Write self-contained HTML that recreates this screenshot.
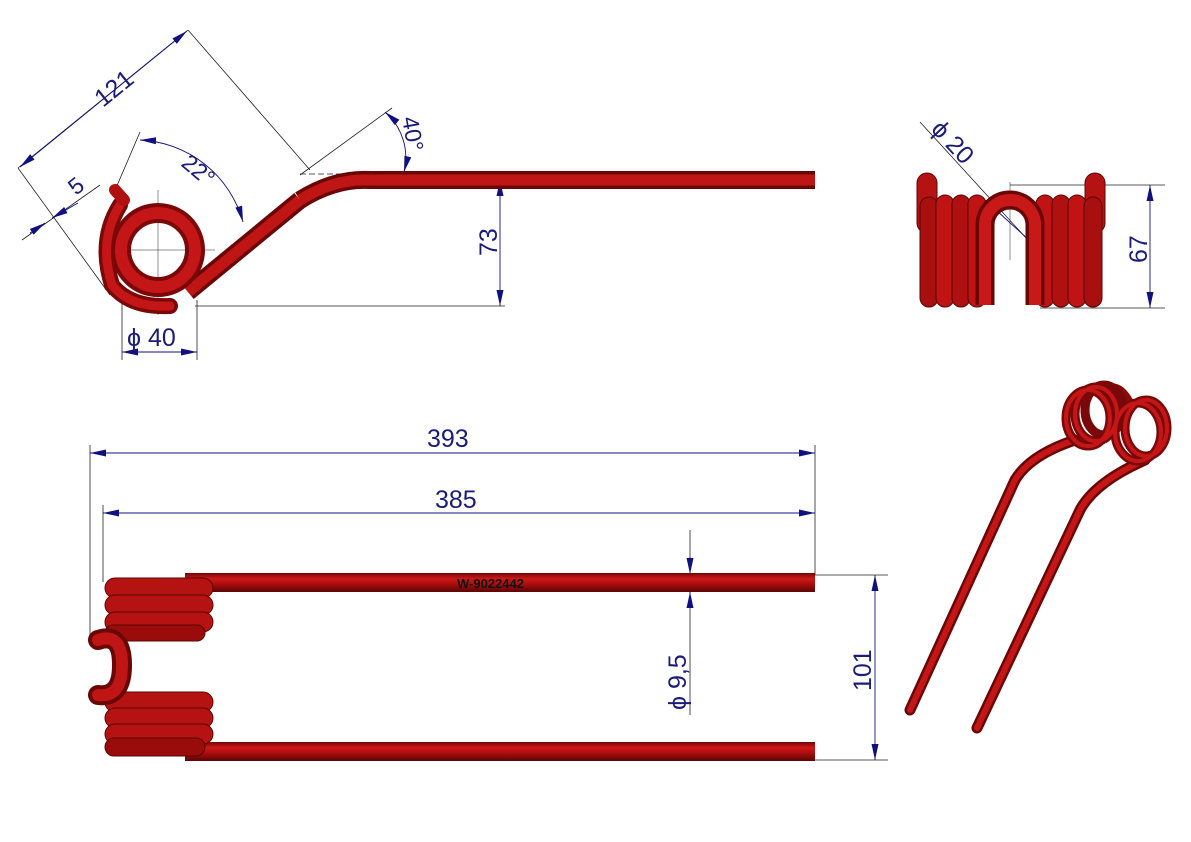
<!DOCTYPE html>
<html><head><meta charset="utf-8"><style>
html,body{margin:0;padding:0;background:#fff}
svg{display:block}
text{font-family:"Liberation Sans",sans-serif;fill:#1b1b7a}
</style></head><body>
<svg width="1191" height="842" viewBox="0 0 1191 842" xmlns="http://www.w3.org/2000/svg">
<defs>
<marker id="a" markerWidth="16" markerHeight="8" refX="16" refY="4" orient="auto-start-reverse" markerUnits="userSpaceOnUse">
<path d="M0,0.5 L16,4 L0,7.5 Z" fill="#101080"/></marker>
<linearGradient id="rod" x1="0" y1="0" x2="0" y2="1">
<stop offset="0" stop-color="#6e0808"/><stop offset="0.3" stop-color="#d01818"/><stop offset="0.6" stop-color="#a80d0d"/><stop offset="1" stop-color="#5a0505"/></linearGradient>
</defs>
<g stroke="#222" stroke-width="0.8" fill="none">
<line x1="18" y1="168" x2="188" y2="30"/>
<line x1="188" y1="30" x2="310" y2="170"/>
<line x1="18" y1="168" x2="110" y2="295"/>
<line x1="22" y1="240" x2="100" y2="185"/>
<line x1="140" y1="132" x2="116" y2="188"/>
<line x1="300" y1="175" x2="392" y2="108"/>
<line x1="300" y1="174" x2="370" y2="174" stroke-dasharray="6,3"/>
<line x1="195" y1="306" x2="505" y2="306"/>
<line x1="122" y1="300" x2="122" y2="360"/>
<line x1="197" y1="300" x2="197" y2="360"/>
<line x1="158" y1="190" x2="158" y2="315" stroke-width="0.5"/>
<line x1="100" y1="250" x2="215" y2="250" stroke-width="0.5"/>
<line x1="920" y1="122" x2="1048" y2="262"/>
<line x1="1010" y1="185" x2="1165" y2="185"/>
<line x1="1040" y1="308" x2="1165" y2="308"/>
<line x1="1010" y1="182" x2="1010" y2="260" stroke-width="0.5"/>
<line x1="90" y1="445" x2="90" y2="645"/>
<line x1="103" y1="505" x2="103" y2="582"/>
<line x1="815" y1="445" x2="815" y2="575"/>
<line x1="815" y1="575" x2="888" y2="575"/>
<line x1="815" y1="760" x2="888" y2="760"/>
<line x1="690" y1="530" x2="690" y2="715"/>
</g>
<g stroke="#101080" stroke-width="0.9" fill="none">
<line x1="20" y1="167" x2="187" y2="31" marker-start="url(#a)" marker-end="url(#a)"/>
<line x1="78" y1="203" x2="52" y2="218" marker-end="url(#a)"/>
<line x1="30" y1="233" x2="45" y2="223" marker-end="url(#a)"/>
<path d="M140,140 A112,112 0 0 1 243,222" marker-start="url(#a)" marker-end="url(#a)"/>
<path d="M385,112 A60,60 0 0 1 404,172" marker-start="url(#a)" marker-end="url(#a)"/>
<line x1="500" y1="180" x2="500" y2="306" marker-start="url(#a)" marker-end="url(#a)"/>
<line x1="122" y1="352" x2="197" y2="352" marker-start="url(#a)" marker-end="url(#a)"/>
<line x1="985" y1="200" x2="1040" y2="250" marker-start="url(#a)" marker-end="url(#a)"/>
<line x1="1150" y1="185" x2="1150" y2="308" marker-start="url(#a)" marker-end="url(#a)"/>
<line x1="90" y1="453" x2="815" y2="453" marker-start="url(#a)" marker-end="url(#a)"/>
<line x1="103" y1="513" x2="815" y2="513" marker-start="url(#a)" marker-end="url(#a)"/>
<line x1="875" y1="575" x2="875" y2="760" marker-start="url(#a)" marker-end="url(#a)"/>
<line x1="690" y1="557" x2="690" y2="574" marker-end="url(#a)"/>
<line x1="690" y1="608" x2="690" y2="592" marker-end="url(#a)"/>
</g>
<text font-size="25" transform="translate(103,108) rotate(-39)">121</text>
<text font-size="23" transform="translate(76,196) rotate(-39)">5</text>
<text font-size="23" transform="translate(180,165) rotate(40)">22°</text>
<text font-size="23" transform="translate(402,118) rotate(80)">40°</text>
<text font-size="25" transform="translate(497,256) rotate(-90)">73</text>
<text font-size="25" x="127" y="346">ϕ 40</text>
<text font-size="25" transform="translate(930,130) rotate(47)">ϕ 20</text>
<text font-size="25" transform="translate(1147,263) rotate(-90)">67</text>
<text font-size="25" x="427" y="447">393</text>
<text font-size="25" x="435" y="508">385</text>
<text font-size="25" transform="translate(871,691) rotate(-90)">101</text>
<text font-size="25" transform="translate(686,710) rotate(-90)">ϕ 9,5</text>

<g>
<path d="M300,200 Q335,178 370,180 L815,180" stroke="#6a0606" stroke-width="18" fill="none"/>
<path d="M300,200 Q335,178 370,180 L815,180" stroke="#c01515" stroke-width="11" fill="none"/>
<path d="M188,292 L300,200" stroke="#6a0606" stroke-width="18" fill="none"/>
<path d="M188,292 L300,200" stroke="#c01515" stroke-width="11" fill="none"/>
<path d="M120,205 Q98,240 112,285 Q130,308 170,306" stroke="#7a0808" stroke-width="16" fill="none" stroke-linecap="round"/>
<path d="M120,205 Q98,240 112,285 Q130,308 170,306" stroke="#c41616" stroke-width="9" fill="none" stroke-linecap="round"/>
<circle cx="158" cy="250" r="37" fill="none" stroke="#7a0808" stroke-width="20"/>
<circle cx="158" cy="250" r="37" fill="none" stroke="#c41616" stroke-width="12"/>
<line x1="115" y1="190" x2="124" y2="200" stroke="#b01010" stroke-width="12" stroke-linecap="round"/>
</g>

<g stroke="#5a0505" stroke-width="1">
<rect x="917" y="173" width="20" height="60" rx="10" fill="#b51212"/>
<rect x="1085" y="173" width="20" height="60" rx="10" fill="#b51212"/>
<rect x="920" y="197" width="18" height="110" rx="9" fill="#a80f0f"/>
<rect x="936" y="195" width="18" height="112" rx="9" fill="#c01414"/>
<rect x="952" y="195" width="18" height="112" rx="9" fill="#b01010"/>
<rect x="968" y="195" width="18" height="112" rx="9" fill="#c01414"/>
<rect x="1036" y="195" width="18" height="112" rx="9" fill="#c01414"/>
<rect x="1052" y="195" width="18" height="112" rx="9" fill="#b01010"/>
<rect x="1068" y="195" width="18" height="112" rx="9" fill="#c01414"/>
<rect x="1084" y="197" width="18" height="110" rx="9" fill="#a80f0f"/>
<path d="M985,305 L985,225 A25,25 0 0 1 1035,225 L1035,305" fill="none" stroke="#6a0606" stroke-width="19"/>
<path d="M985,305 L985,225 A25,25 0 0 1 1035,225 L1035,305" fill="none" stroke="#c81818" stroke-width="12"/>
</g>

<g>
<rect x="185" y="573" width="630" height="19" fill="url(#rod)"/>
<rect x="185" y="742" width="630" height="19" fill="url(#rod)"/>
<g fill="#b51212" stroke="#5a0505" stroke-width="1">
<rect x="105" y="578" width="108" height="20" rx="10"/>
<rect x="105" y="595" width="108" height="20" rx="10"/>
<rect x="105" y="612" width="108" height="20" rx="10"/>
<rect x="105" y="625" width="100" height="16" rx="8" fill="#9a0c0c"/>
<rect x="105" y="692" width="108" height="20" rx="10"/>
<rect x="105" y="708" width="108" height="20" rx="10"/>
<rect x="105" y="724" width="108" height="20" rx="10"/>
<rect x="105" y="738" width="100" height="18" rx="9" fill="#9a0c0c"/>
</g>
<path d="M98,640 Q122,632 122,665 Q122,698 98,695" fill="none" stroke="#6a0606" stroke-width="20" stroke-linecap="round"/>
<path d="M98,640 Q122,632 122,665 Q122,698 98,695" fill="none" stroke="#c01515" stroke-width="12" stroke-linecap="round"/>
<text x="457" y="588" font-size="13" font-weight="bold" style="fill:#111">W-9022442</text>
</g>

<g fill="none" stroke-linecap="round">
<path d="M910,710 L1015,480 Q1030,455 1075,440" stroke="#6a0606" stroke-width="11"/>
<path d="M910,710 L1015,480 Q1030,455 1075,440" stroke="#c41616" stroke-width="6"/>
<path d="M977,728 L1080,510 Q1095,482 1145,460" stroke="#6a0606" stroke-width="11"/>
<path d="M977,728 L1080,510 Q1095,482 1145,460" stroke="#c41616" stroke-width="6"/>
<path d="M1100,392 Q1118,380 1130,405" stroke="#8a0a0a" stroke-width="10"/>
<g stroke="#7a0808" stroke-width="9">
<ellipse cx="1088" cy="418" rx="22" ry="28"/>
<ellipse cx="1096" cy="414" rx="21" ry="27"/>
<ellipse cx="1104" cy="410" rx="19" ry="25"/>
<ellipse cx="1138" cy="432" rx="23" ry="29"/>
<ellipse cx="1146" cy="428" rx="21" ry="28"/>
</g>
<g stroke="#c41616" stroke-width="4">
<ellipse cx="1088" cy="418" rx="22" ry="28"/>
<ellipse cx="1096" cy="414" rx="21" ry="27"/>
<ellipse cx="1138" cy="432" rx="23" ry="29"/>
<ellipse cx="1146" cy="428" rx="21" ry="28"/>
</g>
</g>
</svg>
</body></html>
